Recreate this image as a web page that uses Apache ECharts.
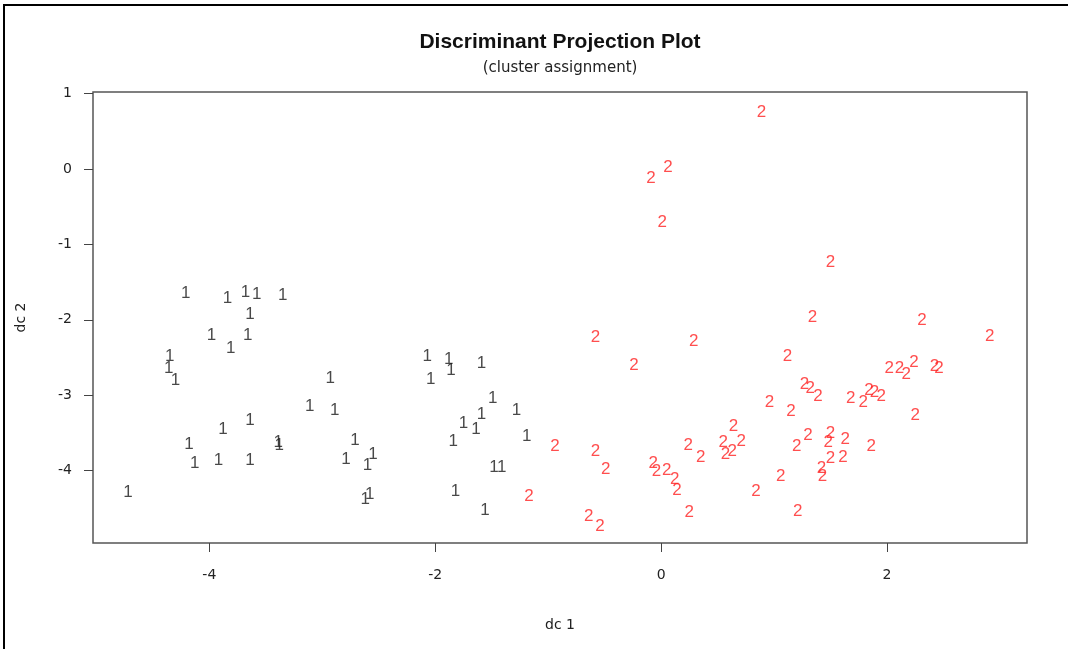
<!DOCTYPE html>
<html>
<head>
<meta charset="utf-8">
<script src="https://cdn.jsdelivr.net/npm/echarts@6/dist/echarts.min.js"></script>
<style>
  html, body { margin: 0; padding: 0; background: #fff; }
  #chart { width: 1068px; height: 649px; }
</style>
</head>
<body>
<div id="chart"></div>
<script>
  // cluster 1 points [dc1, dc2]
  const cluster1 = [
    [-4.21, -1.65], [-3.84, -1.71], [-3.68, -1.63], [-3.58, -1.66], [-3.35, -1.68],
    [-3.64, -1.93], [-3.98, -2.21], [-3.66, -2.21], [-3.81, -2.38], [-4.35, -2.48],
    [-4.36, -2.64], [-4.30, -2.80], [-2.93, -2.77], [-3.11, -3.15], [-2.89, -3.20],
    [-3.64, -3.33], [-3.88, -3.45], [-4.18, -3.65], [-3.39, -3.62], [-3.38, -3.66],
    [-2.71, -3.60], [-2.55, -3.78], [-2.79, -3.85], [-2.60, -3.93], [-4.13, -3.90],
    [-3.92, -3.86], [-3.64, -3.86], [-4.72, -4.29], [-2.58, -4.32], [-2.62, -4.38],
    [-2.07, -2.49], [-1.88, -2.53], [-1.86, -2.67], [-1.59, -2.58], [-2.04, -2.79],
    [-1.49, -3.04], [-1.28, -3.20], [-1.59, -3.25], [-1.75, -3.37], [-1.64, -3.45],
    [-1.84, -3.61], [-1.19, -3.55], [-1.48, -3.96], [-1.41, -3.95], [-1.82, -4.27],
    [-1.56, -4.52]
  ];

  // cluster 2 points [dc1, dc2]
  const cluster2 = [
    [0.89, 0.75], [-0.09, -0.12], [0.06, 0.02], [0.01, -0.71], [1.50, -1.24],
    [1.34, -1.97], [-0.58, -2.23], [0.29, -2.29], [-0.24, -2.61], [1.12, -2.48],
    [1.27, -2.86], [1.32, -2.91], [1.39, -3.01], [1.68, -3.04], [0.96, -3.10],
    [1.15, -3.21], [0.64, -3.41], [0.24, -3.66], [0.35, -3.82], [0.55, -3.63],
    [0.63, -3.75], [0.71, -3.61], [0.57, -3.79], [-0.94, -3.68], [-0.58, -3.74],
    [-0.49, -3.98], [-0.07, -3.90], [-0.04, -4.01], [0.05, -3.99], [0.12, -4.12],
    [0.14, -4.26], [-1.17, -4.34], [-0.64, -4.60], [-0.54, -4.74], [0.25, -4.55],
    [0.84, -4.27], [1.06, -4.08], [1.21, -4.54], [1.20, -3.68], [1.30, -3.53],
    [1.50, -3.51], [1.48, -3.63], [1.63, -3.59], [1.50, -3.84], [1.42, -3.97],
    [1.43, -4.08], [1.61, -3.83], [2.31, -2.01], [2.91, -2.22], [2.02, -2.64],
    [2.11, -2.64], [2.17, -2.72], [2.24, -2.57], [2.42, -2.62], [2.46, -2.64],
    [1.79, -3.09], [1.84, -2.94], [1.89, -2.96], [1.95, -3.01], [2.25, -3.27],
    [1.86, -3.68]
  ];

  const xTicks = [-4, -2, 0, 2];
  const yTicks = [1, 0, -1, -2, -3, -4];

  const font = '"Liberation Sans", Arial, sans-serif';
  const wideFont = '"DejaVu Sans", Verdana, sans-serif';

  function labelSeries(name, data, color) {
    return {
      name: name,
      type: 'scatter',
      data: data,
      symbol: 'circle',
      symbolSize: 1,
      itemStyle: { color: 'transparent' },
      label: {
        show: true,
        position: 'inside',
        formatter: name,
        color: color,
        fontSize: 17,
        fontFamily: font
      },
      emphasis: { disabled: true },
      silent: true
    };
  }

  const chart = echarts.init(document.getElementById('chart'));
  chart.setOption({
    animation: false,
    backgroundColor: '#fff',
    title: {
      text: 'Discriminant Projection Plot',
      subtext: '(cluster assignment)',
      left: 555,
      textAlign: 'center',
      top: 27,
      itemGap: 8,
      textStyle: { fontFamily: font, fontSize: 21, fontWeight: 'bold', color: '#111' },
      subtextStyle: { fontFamily: wideFont, fontSize: 15, color: '#222' }
    },
    graphic: [{
      type: 'rect',
      shape: { x: 4, y: 5, width: 1100, height: 700 },
      style: { fill: 'none', stroke: '#000', lineWidth: 2 },
      silent: true
    }],
    grid: {
      left: 93, right: 41, top: 92, bottom: 106,
      show: true, borderColor: '#555', borderWidth: 1.5,
      backgroundColor: 'transparent'
    },
    xAxis: {
      type: 'value',
      min: -5.03, max: 3.24,
      name: 'dc 1',
      nameLocation: 'middle',
      nameGap: 75,
      nameTextStyle: { fontFamily: wideFont, fontSize: 14, color: '#222' },
      axisLine: { show: false, onZero: false },
      splitLine: { show: false },
      axisTick: { show: true, length: 9, customValues: xTicks, lineStyle: { color: '#444' } },
      axisLabel: { customValues: xTicks, margin: 25, fontFamily: wideFont, fontSize: 14, color: '#222' }
    },
    yAxis: {
      type: 'value',
      min: -4.96, max: 1.02,
      name: 'dc 2',
      nameLocation: 'middle',
      nameGap: 65,
      nameRotate: 90,
      nameTextStyle: { fontFamily: wideFont, fontSize: 14, color: '#222' },
      axisLine: { show: false, onZero: false },
      splitLine: { show: false },
      axisTick: { show: true, length: 9, customValues: yTicks, lineStyle: { color: '#444' } },
      axisLabel: { customValues: yTicks, margin: 21, fontFamily: wideFont, fontSize: 14, color: '#222' }
    },
    series: [
      labelSeries('1', cluster1, '#1a1a1a'),
      labelSeries('2', cluster2, '#ff2222')
    ]
  });
</script>
</body>
</html>
